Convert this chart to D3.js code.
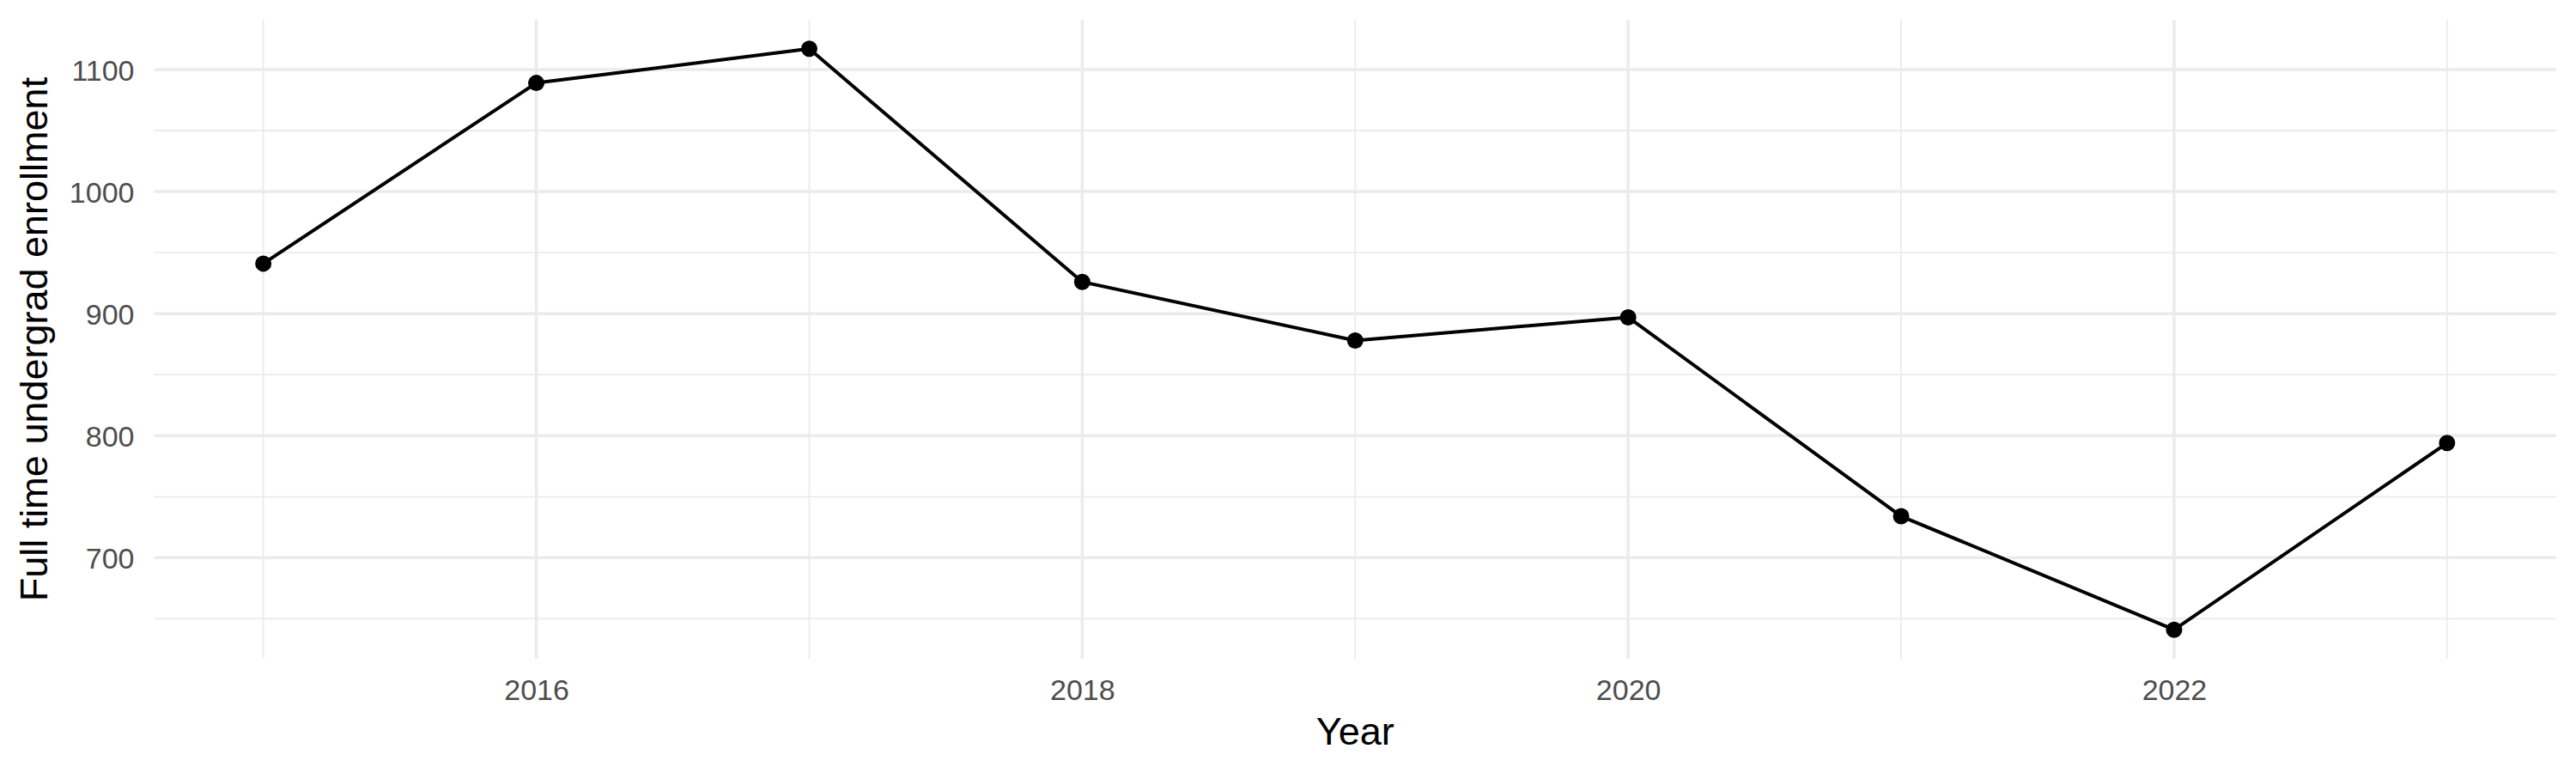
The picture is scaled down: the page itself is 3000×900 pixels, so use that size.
<!DOCTYPE html>
<html>
<head>
<meta charset="utf-8">
<script src="https://cdn.jsdelivr.net/npm/d3@7"></script>
<style>
  html, body { margin: 0; padding: 0; background: #ffffff; }
  svg { display: block; }
</style>
</head>
<body>
<svg id="chart" width="3000" height="900"></svg>
<script>
// Data
const years = [2015, 2016, 2017, 2018, 2019, 2020, 2021, 2022, 2023];
const enrollment = [941, 1089, 1117, 926, 878, 897, 734, 641, 794];
const xMajorTicks = [2016, 2018, 2020, 2022];
const xMinorTicks = [2015, 2017, 2019, 2021, 2023];
const yMajorTicks = [700, 800, 900, 1000, 1100];
const yMinorTicks = [650, 750, 850, 950, 1050];
const xTitle = "Year";
const yTitle = "Full time undergrad enrollment";

const W = 3000, H = 900;
const panel = { left: 179.5, right: 2977, top: 23, bottom: 767 };

const svg = d3.select("#chart");

// ggplot-like 5% expansion
const xMin = d3.min(years), xMax = d3.max(years);
const xPad = (xMax - xMin) * 0.05;
const yMin = d3.min(enrollment), yMax = d3.max(enrollment);
const yPad = (yMax - yMin) * 0.05;

const x = d3.scaleLinear().domain([xMin - xPad, xMax + xPad]).range([panel.left, panel.right]);
const y = d3.scaleLinear().domain([yMin - yPad, yMax + yPad]).range([panel.bottom, panel.top]);

const grid = svg.append("g");
// minor grid
grid.selectAll("line.yminor").data(yMinorTicks).enter().append("line")
  .attr("x1", panel.left).attr("x2", panel.right)
  .attr("y1", d => y(d)).attr("y2", d => y(d))
  .attr("stroke", "#ebebeb").attr("stroke-width", 1.8);
grid.selectAll("line.xminor").data(xMinorTicks).enter().append("line")
  .attr("y1", panel.top).attr("y2", panel.bottom)
  .attr("x1", d => x(d)).attr("x2", d => x(d))
  .attr("stroke", "#ebebeb").attr("stroke-width", 1.8);
// major grid
grid.selectAll("line.ymajor").data(yMajorTicks).enter().append("line")
  .attr("x1", panel.left).attr("x2", panel.right)
  .attr("y1", d => y(d)).attr("y2", d => y(d))
  .attr("stroke", "#ebebeb").attr("stroke-width", 3.5);
grid.selectAll("line.xmajor").data(xMajorTicks).enter().append("line")
  .attr("y1", panel.top).attr("y2", panel.bottom)
  .attr("x1", d => x(d)).attr("x2", d => x(d))
  .attr("stroke", "#ebebeb").attr("stroke-width", 3.5);

// Axes via d3 axis generators (no domain/ticks lines, labels only)
const yAxis = d3.axisLeft(y).tickValues(yMajorTicks).tickSize(0).tickPadding(0).tickFormat(d3.format("d"));
const gy = svg.append("g").attr("transform", `translate(${panel.left - 23},0)`).call(yAxis);
gy.select(".domain").remove();
gy.selectAll("text")
  .attr("font-family", "'Liberation Sans', Arial, Helvetica, sans-serif")
  .attr("font-size", 34).attr("fill", "#4d4d4d").attr("dy", "0.36em");

const xAxis = d3.axisBottom(x).tickValues(xMajorTicks).tickSize(0).tickPadding(0).tickFormat(d3.format("d"));
const gx = svg.append("g").attr("transform", `translate(0,${panel.bottom})`).call(xAxis);
gx.select(".domain").remove();
gx.selectAll("text")
  .attr("font-family", "'Liberation Sans', Arial, Helvetica, sans-serif")
  .attr("font-size", 34).attr("fill", "#4d4d4d").attr("y", 48).attr("dy", 0);

// Line
const pts = years.map((yr, i) => [yr, enrollment[i]]);
const line = d3.line().x(d => x(d[0])).y(d => y(d[1]));
svg.append("path").datum(pts)
  .attr("d", line).attr("fill", "none")
  .attr("stroke", "#000000").attr("stroke-width", 4)
  .attr("stroke-linejoin", "round");

// Points
svg.append("g").selectAll("circle").data(pts).enter().append("circle")
  .attr("cx", d => x(d[0])).attr("cy", d => y(d[1]))
  .attr("r", 9.5).attr("fill", "#000000");

// Titles
svg.append("text")
  .attr("x", (panel.left + panel.right) / 2).attr("y", 867)
  .attr("text-anchor", "middle")
  .attr("font-family", "'Liberation Sans', Arial, Helvetica, sans-serif")
  .attr("font-size", 45).attr("fill", "#000000")
  .text(xTitle);

svg.append("text")
  .attr("transform", `translate(55,${(panel.top + panel.bottom) / 2}) rotate(-90)`)
  .attr("text-anchor", "middle")
  .attr("font-family", "'Liberation Sans', Arial, Helvetica, sans-serif")
  .attr("font-size", 45).attr("fill", "#000000")
  .text(yTitle);
</script>
</body>
</html>
